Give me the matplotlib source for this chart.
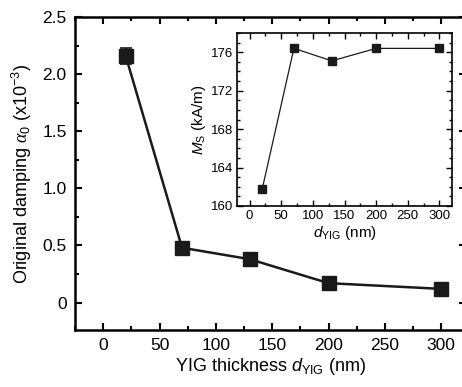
import numpy as np
import matplotlib
matplotlib.use('Agg')
import matplotlib.pyplot as plt
from matplotlib.ticker import MultipleLocator

plt.rcParams['font.family'] = ['Liberation Sans', 'DejaVu Sans']
plt.rcParams['mathtext.fontset'] = 'custom'
plt.rcParams['mathtext.rm'] = 'Liberation Sans'
plt.rcParams['mathtext.it'] = 'Liberation Sans:italic'
plt.rcParams['mathtext.bf'] = 'Liberation Serif:italic'

# Main panel: original damping vs YIG thickness
thickness = [20, 70, 130, 200, 300]
damping = [2.16, 0.48, 0.38, 0.17, 0.12]
damping_err = [0.07, 0.03, 0.03, 0.02, 0.02]

# Inset: saturation magnetisation vs YIG thickness
ms_thickness = [20, 70, 130, 200, 300]
ms_values = [161.8, 176.4, 175.1, 176.4, 176.4]

fig = plt.figure(figsize=(4.62, 3.87), dpi=100)
# right spine sits just past the figure edge, as in the cropped original
ax = fig.add_axes([75 / 462, 1 - 330 / 387, 391 / 462, 313 / 387])

ax.errorbar(thickness, damping, yerr=damping_err, color='#1a1a1a', lw=1.8,
            marker='s', ms=10, capsize=4, elinewidth=1.2, capthick=1.2)
ax.set_xlim(-25, 322)
ax.set_ylim(-0.24, 2.5)
ax.xaxis.set_major_locator(MultipleLocator(50))
ax.xaxis.set_minor_locator(MultipleLocator(25))
ax.yaxis.set_minor_locator(MultipleLocator(0.25))
ax.set_yticks([0, 0.5, 1.0, 1.5, 2.0, 2.5])
ax.set_yticklabels(['0', '0.5', '1.0', '1.5', '2.0', '2.5'])
ax.tick_params(which='both', direction='in', top=True, right=True, labelsize=12.5, width=1.5, pad=6)
ax.tick_params(which='major', length=5)
ax.tick_params(which='minor', length=3)
for s in ax.spines.values():
    s.set_linewidth(1.8)
ax.set_xlabel(r'YIG thickness $d_{\mathrm{YIG}}$ (nm)', fontsize=13, labelpad=2)
ax.set_ylabel(r'Original damping $\mathbf{\alpha}_0$ (x10$^{-3}$)', fontsize=13, labelpad=6)

# Inset
ins = fig.add_axes([237 / 462, 1 - 206 / 387, 215 / 462, 173 / 387])
ins.plot(ms_thickness, ms_values, color='#1a1a1a', lw=0.9, marker='s', ms=6)
ins.set_xlim(-20, 320)
ins.set_ylim(160, 178)
ins.xaxis.set_major_locator(MultipleLocator(50))
ins.xaxis.set_minor_locator(MultipleLocator(25))
ins.yaxis.set_major_locator(MultipleLocator(4))
ins.yaxis.set_minor_locator(MultipleLocator(1))
ins.tick_params(which='both', direction='in', top=True, right=True, labelsize=9.5, width=1.0, pad=3)
ins.tick_params(which='major', length=4)
ins.tick_params(which='minor', length=2)
for s in ins.spines.values():
    s.set_linewidth(1.2)
ins.set_xlabel(r'$d_{\mathrm{YIG}}$ (nm)', fontsize=11, labelpad=1)
ins.set_ylabel(r'$M_{\mathrm{S}}$ (kA/m)', fontsize=11, labelpad=2)

fig.savefig('out.png', dpi=100)
